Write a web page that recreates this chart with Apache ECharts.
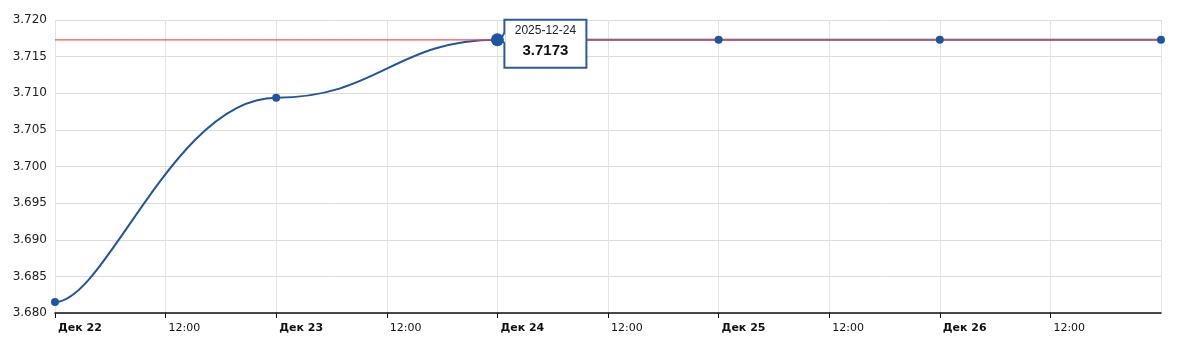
<!DOCTYPE html>
<html><head><meta charset="utf-8">
<script src="https://cdn.jsdelivr.net/npm/echarts@6/dist/echarts.min.js"></script>
<style>html,body{margin:0;padding:0;background:#fff}#c{width:1181px;height:344px}</style>
</head><body><div id="c"></div>
<script>
const dates = ['2025-12-22','2025-12-23','2025-12-24','2025-12-25','2025-12-26','2025-12-27'];
const values = [3.6815, 3.7094, 3.7173, 3.7173, 3.7173, 3.7173];
const referenceValue = 3.7173;
const yTicks = {min: 3.680, max: 3.720, step: 0.005};
const monthLabel = 'Дек';
const highlightIndex = 2;

const t0 = Date.parse(dates[0] + 'T00:00:00Z');
const hoursOf = d => (Date.parse(d + 'T00:00:00Z') - t0) / 3600000;
const startDay = 22;
const xMax = hoursOf(dates[dates.length - 1]);
const xs = dates.map(hoursOf);
const LINE = '#1f55a0';
const BOX = '#2b5ba3';
const tensionX = 0.23; // horizontal tension (1 - 0.77), vertical tangents flat
const hiPoint = [xs[highlightIndex], values[highlightIndex]];
const HI_SIZE = 13;

function renderSegment(params, api) {
  const i = params.dataIndex;
  if (i === 0) return null;
  const n = xs.length;
  const P = k => api.coord([xs[Math.max(0, Math.min(n - 1, k))], values[Math.max(0, Math.min(n - 1, k))]]);
  const p0 = P(i - 2), p1 = P(i - 1), p2 = P(i), p3 = P(i + 1);
  return {
    type: 'bezierCurve',
    shape: {
      x1: p1[0], y1: p1[1], x2: p2[0], y2: p2[1],
      cpx1: p1[0] + tensionX * (p2[0] - p0[0]), cpy1: p1[1],
      cpx2: p2[0] - tensionX * (p3[0] - p1[0]), cpy2: p2[1]
    },
    style: {stroke: LINE, lineWidth: 2, fill: null}
  };
}

function renderTip(params, api) {
  const p = api.coord([api.value(0), api.value(1)]);
  const bx = p[0] + HI_SIZE / 2;
  const w = 82, h = 48;
  return {
    type: 'group',
    children: [{
      type: 'rect',
      shape: {x: bx + 0.5, y: p[1] - 20, width: w, height: h},
      style: {fill: '#fff', stroke: BOX, lineWidth: 2}
    }, {
      type: 'polygon',
      shape: {points: [[bx + 1.6, p[1] - 7], [p[0] + 3, p[1]], [bx + 1.6, p[1] + 3]]},
      style: {fill: '#fff', stroke: null}
    }, {
      type: 'polyline',
      shape: {points: [[bx + 0.5, p[1] - 7], [p[0] + 3, p[1]], [bx + 0.5, p[1] + 3]]},
      style: {stroke: BOX, lineWidth: 2, fill: null}
    }, {
      type: 'text',
      style: {
        x: bx + 0.5 + w / 2, y: p[1] - 9, text: dates[highlightIndex],
        align: 'center', verticalAlign: 'middle',
        font: '12px "Liberation Sans", Arial', fill: '#222'
      }
    }, {
      type: 'text',
      style: {
        x: bx + 0.5 + w / 2, y: p[1] + 11, text: values[highlightIndex].toFixed(4),
        align: 'center', verticalAlign: 'middle',
        font: 'bold 15px "Liberation Sans", Arial', fill: '#111'
      }
    }]
  };
}

const dotData = xs.map((x, i) => i === highlightIndex ? {value: [x, values[i]], symbolSize: HI_SIZE} : [x, values[i]]);

const chart = echarts.init(document.getElementById('c'), null, {renderer: 'canvas'});
chart.setOption({
  animation: false,
  grid: {left: 55, right: 20, top: 20, bottom: 31},
  xAxis: {
    type: 'value', min: 0, max: xMax, interval: 12,
    axisLine: {show: true, lineStyle: {color: '#111', width: 1.5}},
    axisTick: {show: true, length: 5, lineStyle: {color: '#111'}},
    splitLine: {show: true, lineStyle: {color: '#e3e3e3'}},
    axisLabel: {
      showMaxLabel: false, margin: 10, align: 'left', padding: [0, 0, 0, 3],
      fontFamily: 'DejaVu Sans', fontSize: 11, color: '#111',
      formatter: v => v % 24 === 0 ? '{d|' + monthLabel + ' ' + (startDay + v / 24) + '}' : '12:00',
      rich: {d: {fontFamily: 'DejaVu Sans', fontSize: 11, fontWeight: 'bold', color: '#111'}}
    }
  },
  yAxis: {
    type: 'value', min: yTicks.min, max: yTicks.max, interval: yTicks.step,
    axisLine: {show: false}, axisTick: {show: false},
    splitLine: {show: true, lineStyle: {color: '#dcdcdc'}},
    axisLabel: {margin: 8, fontFamily: 'DejaVu Sans', fontSize: 12, color: '#222', formatter: v => v.toFixed(3)}
  },
  series: [{
    type: 'custom', data: xs.map((x, i) => [x, values[i]]),
    renderItem: renderSegment, silent: true, z: 2
  }, {
    type: 'line', data: [[0, referenceValue], [xMax, referenceValue]],
    symbol: 'none', silent: true,
    lineStyle: {color: '#ff4f4f', width: 1.2, opacity: 1},
    z: 3
  }, {
    type: 'custom', data: [hiPoint], renderItem: renderTip, silent: true, clip: false, z: 5
  }, {
    type: 'scatter', data: dotData,
    symbol: 'circle', symbolSize: 8,
    itemStyle: {color: LINE, opacity: 1},
    z: 6
  }]
});
</script></body></html>
